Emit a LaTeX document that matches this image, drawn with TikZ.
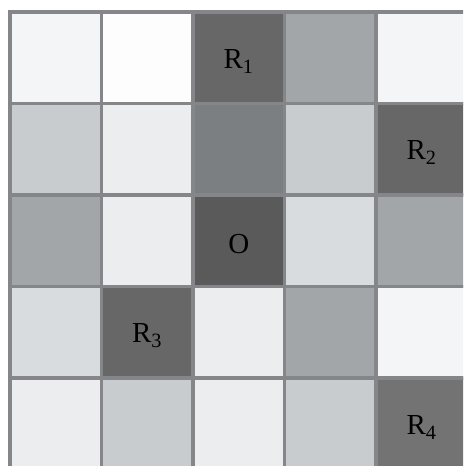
\documentclass[tikz,border=0pt]{standalone}
\usepackage{fontspec}
\setmainfont{Liberation Serif}
\usepackage{tikz}

\definecolor{gridgray}{HTML}{84868A}
\definecolor{lvlwhite}{HTML}{FDFDFD}
\definecolor{lvlpale}{HTML}{F4F5F6}
\definecolor{lvllight}{HTML}{ECEDEF}
\definecolor{lvlsilver}{HTML}{D9DCDF}
\definecolor{lvlgray}{HTML}{C8CCCF}
\definecolor{lvlmid}{HTML}{A3A6A9}
\definecolor{lvlslate}{HTML}{7B7F82}
\definecolor{lvldark}{HTML}{676767}
\definecolor{lvldim}{HTML}{737373}
\definecolor{lvlcore}{HTML}{5A5A5A}

\begin{document}
\begin{tikzpicture}[x=0.02cm,y=-0.02cm,
    cell/.style={draw=gridgray, line width=1.8pt, minimum size=1.83cm, inner sep=0pt},
    tag/.style={font=\fontsize{16.5}{18}\selectfont, yshift=-2pt}]

\useasboundingbox (0,0) rectangle (463,466);
\clip (0,0) rectangle (463,466);

% Grid of cells, row by row
\foreach \rowfill [count=\r] in {
    {lvlpale,lvlwhite,lvldark,lvlmid,lvlpale},
    {lvlgray,lvllight,lvlslate,lvlgray,lvldark},
    {lvlmid,lvllight,lvlcore,lvlsilver,lvlmid},
    {lvlsilver,lvldark,lvllight,lvlmid,lvlpale},
    {lvllight,lvlgray,lvllight,lvlgray,lvldim}}
  \foreach \shade [count=\c] in \rowfill
    \node[cell, fill=\shade] (c\r\c) at ({10+91.5*(\c-0.5)},{12+91.5*(\r-0.5)}) {};

% Labels
\node[tag] (r1) at (c13) {R\textsubscript{1}};
\node[tag] (r2) at (c25) {R\textsubscript{2}};
\node[tag] (o) at (c33) {O};
\node[tag] (r3) at (c42) {R\textsubscript{3}};
\node[tag] (r4) at (c55) {R\textsubscript{4}};

\end{tikzpicture}
\end{document}
